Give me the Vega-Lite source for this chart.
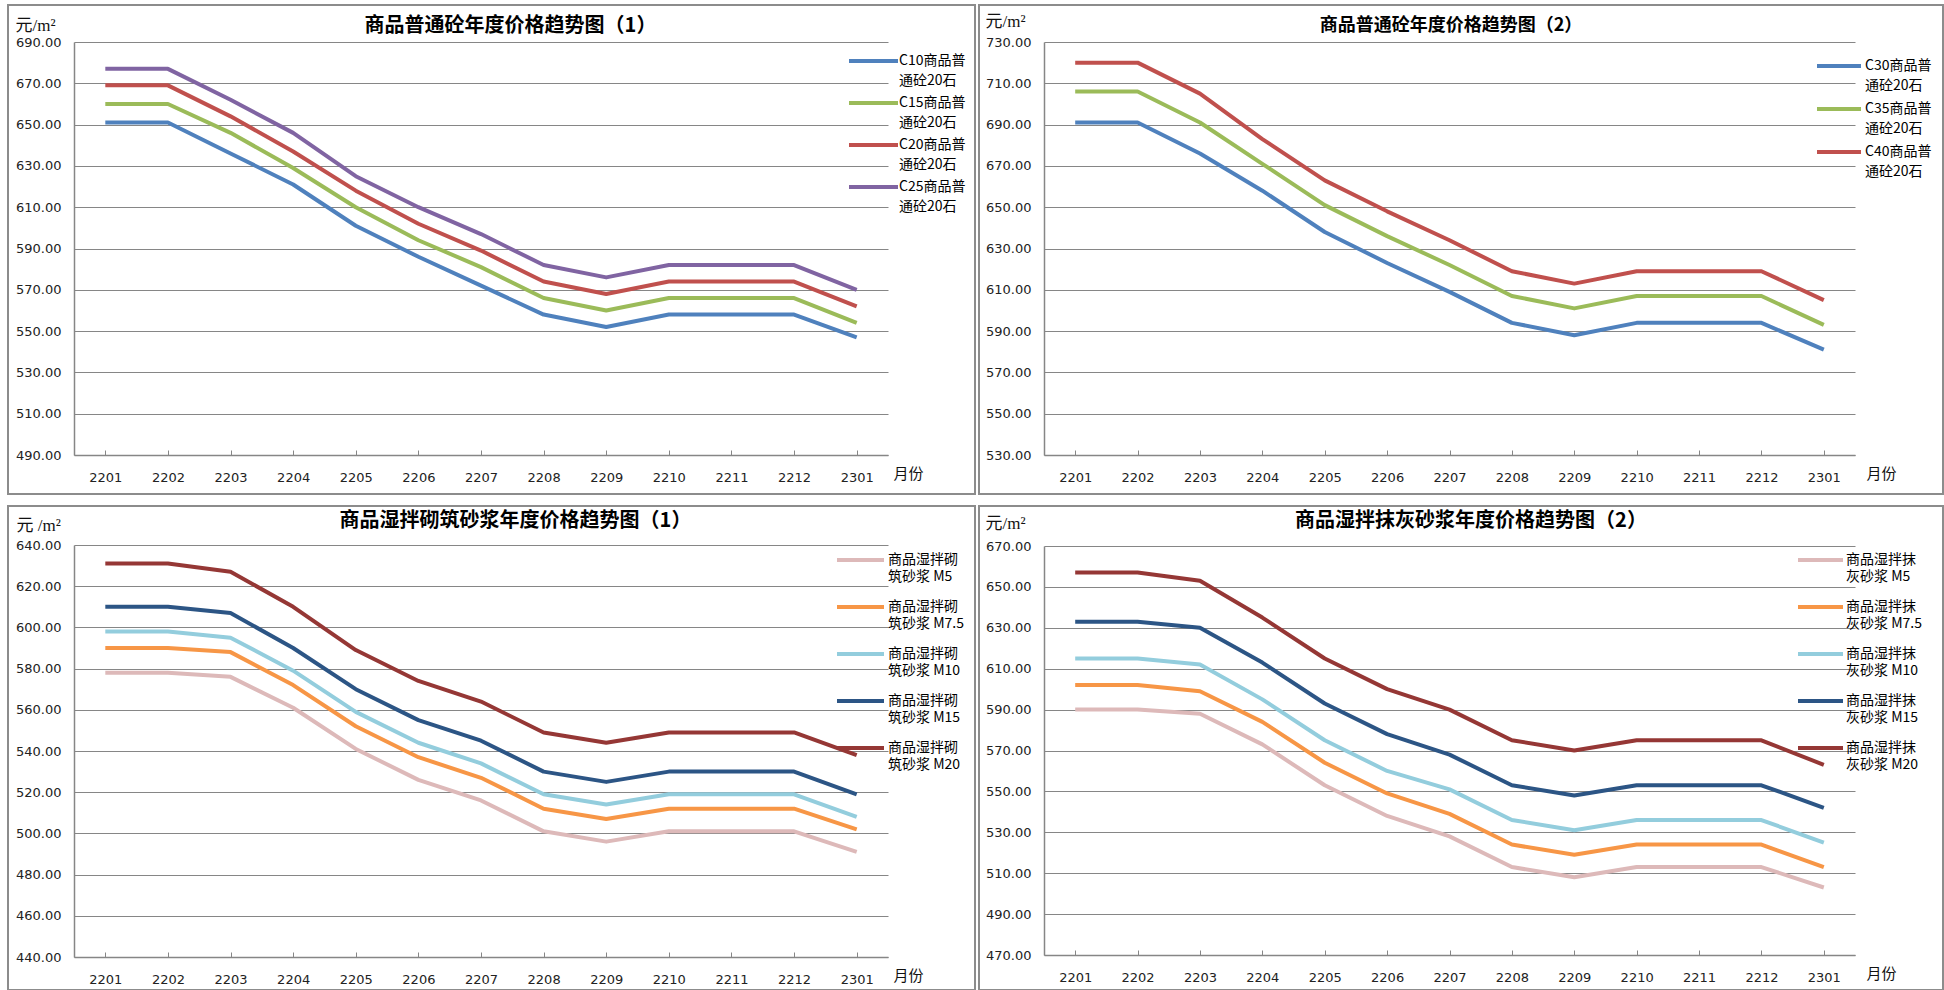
{
"$schema":"https://vega.github.io/schema/vega-lite/v6.json",
"background":"white",
"padding":{"left":7,"top":4,"right":0,"bottom":0},
"resolve":{"scale":{"color":"independent"},"legend":{"color":"independent"}},
"datasets":{
"p1":[
{"m":"2201","s":"C10商品普通砼20石","v":651},{"m":"2202","s":"C10商品普通砼20石","v":651},{"m":"2203","s":"C10商品普通砼20石","v":636},{"m":"2204","s":"C10商品普通砼20石","v":621},{"m":"2205","s":"C10商品普通砼20石","v":601},{"m":"2206","s":"C10商品普通砼20石","v":586},{"m":"2207","s":"C10商品普通砼20石","v":572},{"m":"2208","s":"C10商品普通砼20石","v":558},{"m":"2209","s":"C10商品普通砼20石","v":552},{"m":"2210","s":"C10商品普通砼20石","v":558},{"m":"2211","s":"C10商品普通砼20石","v":558},{"m":"2212","s":"C10商品普通砼20石","v":558},{"m":"2301","s":"C10商品普通砼20石","v":547},
{"m":"2201","s":"C15商品普通砼20石","v":660},{"m":"2202","s":"C15商品普通砼20石","v":660},{"m":"2203","s":"C15商品普通砼20石","v":646},{"m":"2204","s":"C15商品普通砼20石","v":629},{"m":"2205","s":"C15商品普通砼20石","v":610},{"m":"2206","s":"C15商品普通砼20石","v":594},{"m":"2207","s":"C15商品普通砼20石","v":581},{"m":"2208","s":"C15商品普通砼20石","v":566},{"m":"2209","s":"C15商品普通砼20石","v":560},{"m":"2210","s":"C15商品普通砼20石","v":566},{"m":"2211","s":"C15商品普通砼20石","v":566},{"m":"2212","s":"C15商品普通砼20石","v":566},{"m":"2301","s":"C15商品普通砼20石","v":554},
{"m":"2201","s":"C20商品普通砼20石","v":669},{"m":"2202","s":"C20商品普通砼20石","v":669},{"m":"2203","s":"C20商品普通砼20石","v":654},{"m":"2204","s":"C20商品普通砼20石","v":637},{"m":"2205","s":"C20商品普通砼20石","v":618},{"m":"2206","s":"C20商品普通砼20石","v":602},{"m":"2207","s":"C20商品普通砼20石","v":589},{"m":"2208","s":"C20商品普通砼20石","v":574},{"m":"2209","s":"C20商品普通砼20石","v":568},{"m":"2210","s":"C20商品普通砼20石","v":574},{"m":"2211","s":"C20商品普通砼20石","v":574},{"m":"2212","s":"C20商品普通砼20石","v":574},{"m":"2301","s":"C20商品普通砼20石","v":562},
{"m":"2201","s":"C25商品普通砼20石","v":677},{"m":"2202","s":"C25商品普通砼20石","v":677},{"m":"2203","s":"C25商品普通砼20石","v":662},{"m":"2204","s":"C25商品普通砼20石","v":646},{"m":"2205","s":"C25商品普通砼20石","v":625},{"m":"2206","s":"C25商品普通砼20石","v":610},{"m":"2207","s":"C25商品普通砼20石","v":597},{"m":"2208","s":"C25商品普通砼20石","v":582},{"m":"2209","s":"C25商品普通砼20石","v":576},{"m":"2210","s":"C25商品普通砼20石","v":582},{"m":"2211","s":"C25商品普通砼20石","v":582},{"m":"2212","s":"C25商品普通砼20石","v":582},{"m":"2301","s":"C25商品普通砼20石","v":570}
],
"p2":[
{"m":"2201","s":"C30商品普通砼20石","v":691},{"m":"2202","s":"C30商品普通砼20石","v":691},{"m":"2203","s":"C30商品普通砼20石","v":676},{"m":"2204","s":"C30商品普通砼20石","v":658},{"m":"2205","s":"C30商品普通砼20石","v":638},{"m":"2206","s":"C30商品普通砼20石","v":623},{"m":"2207","s":"C30商品普通砼20石","v":609},{"m":"2208","s":"C30商品普通砼20石","v":594},{"m":"2209","s":"C30商品普通砼20石","v":588},{"m":"2210","s":"C30商品普通砼20石","v":594},{"m":"2211","s":"C30商品普通砼20石","v":594},{"m":"2212","s":"C30商品普通砼20石","v":594},{"m":"2301","s":"C30商品普通砼20石","v":581},
{"m":"2201","s":"C35商品普通砼20石","v":706},{"m":"2202","s":"C35商品普通砼20石","v":706},{"m":"2203","s":"C35商品普通砼20石","v":691},{"m":"2204","s":"C35商品普通砼20石","v":671},{"m":"2205","s":"C35商品普通砼20石","v":651},{"m":"2206","s":"C35商品普通砼20石","v":636},{"m":"2207","s":"C35商品普通砼20石","v":622},{"m":"2208","s":"C35商品普通砼20石","v":607},{"m":"2209","s":"C35商品普通砼20石","v":601},{"m":"2210","s":"C35商品普通砼20石","v":607},{"m":"2211","s":"C35商品普通砼20石","v":607},{"m":"2212","s":"C35商品普通砼20石","v":607},{"m":"2301","s":"C35商品普通砼20石","v":593},
{"m":"2201","s":"C40商品普通砼20石","v":720},{"m":"2202","s":"C40商品普通砼20石","v":720},{"m":"2203","s":"C40商品普通砼20石","v":705},{"m":"2204","s":"C40商品普通砼20石","v":683},{"m":"2205","s":"C40商品普通砼20石","v":663},{"m":"2206","s":"C40商品普通砼20石","v":648},{"m":"2207","s":"C40商品普通砼20石","v":634},{"m":"2208","s":"C40商品普通砼20石","v":619},{"m":"2209","s":"C40商品普通砼20石","v":613},{"m":"2210","s":"C40商品普通砼20石","v":619},{"m":"2211","s":"C40商品普通砼20石","v":619},{"m":"2212","s":"C40商品普通砼20石","v":619},{"m":"2301","s":"C40商品普通砼20石","v":605}
],
"p3":[
{"m":"2201","s":"商品湿拌砌筑砂浆 M5","v":578},{"m":"2202","s":"商品湿拌砌筑砂浆 M5","v":578},{"m":"2203","s":"商品湿拌砌筑砂浆 M5","v":576},{"m":"2204","s":"商品湿拌砌筑砂浆 M5","v":561},{"m":"2205","s":"商品湿拌砌筑砂浆 M5","v":541},{"m":"2206","s":"商品湿拌砌筑砂浆 M5","v":526},{"m":"2207","s":"商品湿拌砌筑砂浆 M5","v":516},{"m":"2208","s":"商品湿拌砌筑砂浆 M5","v":501},{"m":"2209","s":"商品湿拌砌筑砂浆 M5","v":496},{"m":"2210","s":"商品湿拌砌筑砂浆 M5","v":501},{"m":"2211","s":"商品湿拌砌筑砂浆 M5","v":501},{"m":"2212","s":"商品湿拌砌筑砂浆 M5","v":501},{"m":"2301","s":"商品湿拌砌筑砂浆 M5","v":491},
{"m":"2201","s":"商品湿拌砌筑砂浆 M7.5","v":590},{"m":"2202","s":"商品湿拌砌筑砂浆 M7.5","v":590},{"m":"2203","s":"商品湿拌砌筑砂浆 M7.5","v":588},{"m":"2204","s":"商品湿拌砌筑砂浆 M7.5","v":572},{"m":"2205","s":"商品湿拌砌筑砂浆 M7.5","v":552},{"m":"2206","s":"商品湿拌砌筑砂浆 M7.5","v":537},{"m":"2207","s":"商品湿拌砌筑砂浆 M7.5","v":527},{"m":"2208","s":"商品湿拌砌筑砂浆 M7.5","v":512},{"m":"2209","s":"商品湿拌砌筑砂浆 M7.5","v":507},{"m":"2210","s":"商品湿拌砌筑砂浆 M7.5","v":512},{"m":"2211","s":"商品湿拌砌筑砂浆 M7.5","v":512},{"m":"2212","s":"商品湿拌砌筑砂浆 M7.5","v":512},{"m":"2301","s":"商品湿拌砌筑砂浆 M7.5","v":502},
{"m":"2201","s":"商品湿拌砌筑砂浆 M10","v":598},{"m":"2202","s":"商品湿拌砌筑砂浆 M10","v":598},{"m":"2203","s":"商品湿拌砌筑砂浆 M10","v":595},{"m":"2204","s":"商品湿拌砌筑砂浆 M10","v":579},{"m":"2205","s":"商品湿拌砌筑砂浆 M10","v":559},{"m":"2206","s":"商品湿拌砌筑砂浆 M10","v":544},{"m":"2207","s":"商品湿拌砌筑砂浆 M10","v":534},{"m":"2208","s":"商品湿拌砌筑砂浆 M10","v":519},{"m":"2209","s":"商品湿拌砌筑砂浆 M10","v":514},{"m":"2210","s":"商品湿拌砌筑砂浆 M10","v":519},{"m":"2211","s":"商品湿拌砌筑砂浆 M10","v":519},{"m":"2212","s":"商品湿拌砌筑砂浆 M10","v":519},{"m":"2301","s":"商品湿拌砌筑砂浆 M10","v":508},
{"m":"2201","s":"商品湿拌砌筑砂浆 M15","v":610},{"m":"2202","s":"商品湿拌砌筑砂浆 M15","v":610},{"m":"2203","s":"商品湿拌砌筑砂浆 M15","v":607},{"m":"2204","s":"商品湿拌砌筑砂浆 M15","v":590},{"m":"2205","s":"商品湿拌砌筑砂浆 M15","v":570},{"m":"2206","s":"商品湿拌砌筑砂浆 M15","v":555},{"m":"2207","s":"商品湿拌砌筑砂浆 M15","v":545},{"m":"2208","s":"商品湿拌砌筑砂浆 M15","v":530},{"m":"2209","s":"商品湿拌砌筑砂浆 M15","v":525},{"m":"2210","s":"商品湿拌砌筑砂浆 M15","v":530},{"m":"2211","s":"商品湿拌砌筑砂浆 M15","v":530},{"m":"2212","s":"商品湿拌砌筑砂浆 M15","v":530},{"m":"2301","s":"商品湿拌砌筑砂浆 M15","v":519},
{"m":"2201","s":"商品湿拌砌筑砂浆 M20","v":631},{"m":"2202","s":"商品湿拌砌筑砂浆 M20","v":631},{"m":"2203","s":"商品湿拌砌筑砂浆 M20","v":627},{"m":"2204","s":"商品湿拌砌筑砂浆 M20","v":610},{"m":"2205","s":"商品湿拌砌筑砂浆 M20","v":589},{"m":"2206","s":"商品湿拌砌筑砂浆 M20","v":574},{"m":"2207","s":"商品湿拌砌筑砂浆 M20","v":564},{"m":"2208","s":"商品湿拌砌筑砂浆 M20","v":549},{"m":"2209","s":"商品湿拌砌筑砂浆 M20","v":544},{"m":"2210","s":"商品湿拌砌筑砂浆 M20","v":549},{"m":"2211","s":"商品湿拌砌筑砂浆 M20","v":549},{"m":"2212","s":"商品湿拌砌筑砂浆 M20","v":549},{"m":"2301","s":"商品湿拌砌筑砂浆 M20","v":538}
],
"p4":[
{"m":"2201","s":"商品湿拌抹灰砂浆 M5","v":590},{"m":"2202","s":"商品湿拌抹灰砂浆 M5","v":590},{"m":"2203","s":"商品湿拌抹灰砂浆 M5","v":588},{"m":"2204","s":"商品湿拌抹灰砂浆 M5","v":573},{"m":"2205","s":"商品湿拌抹灰砂浆 M5","v":553},{"m":"2206","s":"商品湿拌抹灰砂浆 M5","v":538},{"m":"2207","s":"商品湿拌抹灰砂浆 M5","v":528},{"m":"2208","s":"商品湿拌抹灰砂浆 M5","v":513},{"m":"2209","s":"商品湿拌抹灰砂浆 M5","v":508},{"m":"2210","s":"商品湿拌抹灰砂浆 M5","v":513},{"m":"2211","s":"商品湿拌抹灰砂浆 M5","v":513},{"m":"2212","s":"商品湿拌抹灰砂浆 M5","v":513},{"m":"2301","s":"商品湿拌抹灰砂浆 M5","v":503},
{"m":"2201","s":"商品湿拌抹灰砂浆 M7.5","v":602},{"m":"2202","s":"商品湿拌抹灰砂浆 M7.5","v":602},{"m":"2203","s":"商品湿拌抹灰砂浆 M7.5","v":599},{"m":"2204","s":"商品湿拌抹灰砂浆 M7.5","v":584},{"m":"2205","s":"商品湿拌抹灰砂浆 M7.5","v":564},{"m":"2206","s":"商品湿拌抹灰砂浆 M7.5","v":549},{"m":"2207","s":"商品湿拌抹灰砂浆 M7.5","v":539},{"m":"2208","s":"商品湿拌抹灰砂浆 M7.5","v":524},{"m":"2209","s":"商品湿拌抹灰砂浆 M7.5","v":519},{"m":"2210","s":"商品湿拌抹灰砂浆 M7.5","v":524},{"m":"2211","s":"商品湿拌抹灰砂浆 M7.5","v":524},{"m":"2212","s":"商品湿拌抹灰砂浆 M7.5","v":524},{"m":"2301","s":"商品湿拌抹灰砂浆 M7.5","v":513},
{"m":"2201","s":"商品湿拌抹灰砂浆 M10","v":615},{"m":"2202","s":"商品湿拌抹灰砂浆 M10","v":615},{"m":"2203","s":"商品湿拌抹灰砂浆 M10","v":612},{"m":"2204","s":"商品湿拌抹灰砂浆 M10","v":595},{"m":"2205","s":"商品湿拌抹灰砂浆 M10","v":575},{"m":"2206","s":"商品湿拌抹灰砂浆 M10","v":560},{"m":"2207","s":"商品湿拌抹灰砂浆 M10","v":551},{"m":"2208","s":"商品湿拌抹灰砂浆 M10","v":536},{"m":"2209","s":"商品湿拌抹灰砂浆 M10","v":531},{"m":"2210","s":"商品湿拌抹灰砂浆 M10","v":536},{"m":"2211","s":"商品湿拌抹灰砂浆 M10","v":536},{"m":"2212","s":"商品湿拌抹灰砂浆 M10","v":536},{"m":"2301","s":"商品湿拌抹灰砂浆 M10","v":525},
{"m":"2201","s":"商品湿拌抹灰砂浆 M15","v":633},{"m":"2202","s":"商品湿拌抹灰砂浆 M15","v":633},{"m":"2203","s":"商品湿拌抹灰砂浆 M15","v":630},{"m":"2204","s":"商品湿拌抹灰砂浆 M15","v":613},{"m":"2205","s":"商品湿拌抹灰砂浆 M15","v":593},{"m":"2206","s":"商品湿拌抹灰砂浆 M15","v":578},{"m":"2207","s":"商品湿拌抹灰砂浆 M15","v":568},{"m":"2208","s":"商品湿拌抹灰砂浆 M15","v":553},{"m":"2209","s":"商品湿拌抹灰砂浆 M15","v":548},{"m":"2210","s":"商品湿拌抹灰砂浆 M15","v":553},{"m":"2211","s":"商品湿拌抹灰砂浆 M15","v":553},{"m":"2212","s":"商品湿拌抹灰砂浆 M15","v":553},{"m":"2301","s":"商品湿拌抹灰砂浆 M15","v":542},
{"m":"2201","s":"商品湿拌抹灰砂浆 M20","v":657},{"m":"2202","s":"商品湿拌抹灰砂浆 M20","v":657},{"m":"2203","s":"商品湿拌抹灰砂浆 M20","v":653},{"m":"2204","s":"商品湿拌抹灰砂浆 M20","v":635},{"m":"2205","s":"商品湿拌抹灰砂浆 M20","v":615},{"m":"2206","s":"商品湿拌抹灰砂浆 M20","v":600},{"m":"2207","s":"商品湿拌抹灰砂浆 M20","v":590},{"m":"2208","s":"商品湿拌抹灰砂浆 M20","v":575},{"m":"2209","s":"商品湿拌抹灰砂浆 M20","v":570},{"m":"2210","s":"商品湿拌抹灰砂浆 M20","v":575},{"m":"2211","s":"商品湿拌抹灰砂浆 M20","v":575},{"m":"2212","s":"商品湿拌抹灰砂浆 M20","v":575},{"m":"2301","s":"商品湿拌抹灰砂浆 M20","v":563}
]
},
"vconcat":[
{"resolve":{"scale":{"color":"independent"},"legend":{"color":"independent"}},
 "hconcat":[
{"width":967,"height":489,"data":{"name":"p1"},
 "title":{"text":"商品普通砼年度价格趋势图（1）","anchor":"middle","dx":19,"offset":-31,"fontSize":20},
 "mark":{"type":"line","strokeWidth":4,"strokeJoin":"round"},
 "encoding":{
  "x":{"field":"m","type":"ordinal","scale":{"type":"point","range":[66,880],"padding":0.5},
   "axis":{"title":"月份","titleX":885,"titleY":18,"offset":-39,"labelAngle":0,"tickSize":-5,"labelPadding":21,"grid":false}},
  "y":{"field":"v","type":"quantitative","scale":{"domain":[490,690],"range":[450,37],"nice":false,"zero":false},
   "axis":{"title":"元/m²","titleX":-59,"titleY":20,"offset":-66,"values":[490,510,530,550,570,590,610,630,650,670,690],"format":".2f","grid":true,"ticks":false,"labelPadding":13}},
  "color":{"field":"s","type":"nominal","sort":null,
   "scale":{"domain":["C10商品普通砼20石","C15商品普通砼20石","C20商品普通砼20石","C25商品普通砼20石"],"range":["#4F81BD","#9BBB59","#C0504D","#8064A2"]},
   "legend":{"orient":"none","legendX":839,"legendY":44,"rowPadding":3,"labelOffset":28,"symbolType":"M-1,0H3.9","labelExpr":"[substring(datum.label,0,6),substring(datum.label,6)]",
    "encode":{"labels":{"update":{"lineHeight":{"value":20}}}}}}
 }},
{"width":964,"height":489,"data":{"name":"p2"},
 "title":{"text":"商品普通砼年度价格趋势图（2）","anchor":"middle","dx":-10,"offset":-30,"fontSize":18},
 "mark":{"type":"line","strokeWidth":4,"strokeJoin":"round"},
 "encoding":{
  "x":{"field":"m","type":"ordinal","scale":{"type":"point","range":[65,876],"padding":0.5},
   "axis":{"title":"月份","titleX":887,"titleY":18,"offset":-39,"labelAngle":0,"tickSize":-5,"labelPadding":21,"grid":false}},
  "y":{"field":"v","type":"quantitative","scale":{"domain":[530,730],"range":[450,37],"nice":false,"zero":false},
   "axis":{"title":"元/m²","titleX":-59,"titleY":16,"offset":-65,"values":[530,550,570,590,610,630,650,670,690,710,730],"format":".2f","grid":true,"ticks":false,"labelPadding":13}},
  "color":{"field":"s","type":"nominal","sort":null,
   "scale":{"domain":["C30商品普通砼20石","C35商品普通砼20石","C40商品普通砼20石"],"range":["#4F81BD","#9BBB59","#C0504D"]},
   "legend":{"orient":"none","legendX":836,"legendY":49,"rowPadding":4,"labelOffset":26,"symbolType":"M-1,0H3.4","labelExpr":"[substring(datum.label,0,6),substring(datum.label,6)]",
    "encode":{"labels":{"update":{"lineHeight":{"value":20}}}}}}
 }}
],"spacing":2},
{"resolve":{"scale":{"color":"independent"},"legend":{"color":"independent"}},
 "hconcat":[
{"width":967,"height":484,"data":{"name":"p3"},
 "title":{"text":"商品湿拌砌筑砂浆年度价格趋势图（1）","anchor":"middle","dx":24,"offset":-25,"fontSize":20},
 "mark":{"type":"line","strokeWidth":4,"strokeJoin":"round"},
 "encoding":{
  "x":{"field":"m","type":"ordinal","scale":{"type":"point","range":[66,880],"padding":0.5},
   "axis":{"title":"月份","titleX":885,"titleY":18,"offset":-33,"labelAngle":0,"tickSize":-5,"labelPadding":21,"grid":false}},
  "y":{"field":"v","type":"quantitative","scale":{"domain":[440,640],"range":[451,39],"nice":false,"zero":false},
   "axis":{"title":"元 /m²","titleX":-58,"titleY":19,"offset":-66,"values":[440,460,480,500,520,540,560,580,600,620,640],"format":".2f","grid":true,"ticks":false,"labelPadding":13}},
  "color":{"field":"s","type":"nominal","sort":null,
   "scale":{"domain":["商品湿拌砌筑砂浆 M5","商品湿拌砌筑砂浆 M7.5","商品湿拌砌筑砂浆 M10","商品湿拌砌筑砂浆 M15","商品湿拌砌筑砂浆 M20"],"range":["#DDB9B9","#F79646","#93CDDD","#2C5585","#953735"]},
   "legend":{"orient":"none","legendX":827,"legendY":42,"rowPadding":11,"labelOffset":29,"symbolType":"M-1,0H3.7","labelExpr":"[substring(datum.label,0,5),substring(datum.label,5)]",
    "encode":{"labels":{"update":{"lineHeight":{"value":17}}}}}}
 }},
{"width":964,"height":484,"data":{"name":"p4"},
 "title":{"text":"商品湿拌抹灰砂浆年度价格趋势图（2）","anchor":"middle","dx":10,"offset":-25,"fontSize":20},
 "mark":{"type":"line","strokeWidth":4,"strokeJoin":"round"},
 "encoding":{
  "x":{"field":"m","type":"ordinal","scale":{"type":"point","range":[65,876],"padding":0.5},
   "axis":{"title":"月份","titleX":887,"titleY":18,"offset":-35,"labelAngle":0,"tickSize":-5,"labelPadding":21,"grid":false}},
  "y":{"field":"v","type":"quantitative","scale":{"domain":[470,670],"range":[449,40],"nice":false,"zero":false},
   "axis":{"title":"元/m²","titleX":-59,"titleY":17,"offset":-65,"values":[470,490,510,530,550,570,590,610,630,650,670],"format":".2f","grid":true,"ticks":false,"labelPadding":13}},
  "color":{"field":"s","type":"nominal","sort":null,
   "scale":{"domain":["商品湿拌抹灰砂浆 M5","商品湿拌抹灰砂浆 M7.5","商品湿拌抹灰砂浆 M10","商品湿拌抹灰砂浆 M15","商品湿拌抹灰砂浆 M20"],"range":["#DDB9B9","#F79646","#93CDDD","#2C5585","#953735"]},
   "legend":{"orient":"none","legendX":817,"legendY":42,"rowPadding":11,"labelOffset":26,"symbolType":"M-1,0H3.5","labelExpr":"[substring(datum.label,0,5),substring(datum.label,5)]",
    "encode":{"labels":{"update":{"lineHeight":{"value":17}}}}}}
 }}
],"spacing":2}
],
"spacing":10,
"config":{
 "view":{"stroke":"#8C8C8C","strokeWidth":2},
 "font":"Noto Sans CJK SC",
 "axis":{"domainColor":"#868686","domainWidth":1.5,"gridColor":"#868686","gridWidth":1,"tickColor":"#868686","tickWidth":1,"labelColor":"#222222","labelFont":"DejaVu Sans","labelFontSize":13,
  "titleAngle":0,"titleAlign":"left","titleBaseline":"middle","titleFontWeight":"normal","titleColor":"#111111","titleFontSize":14},
 "axisY":{"titleFont":"Liberation Serif, Noto Sans CJK SC","titleFontSize":17},
 "axisX":{"titleFont":"Noto Sans CJK SC","titleFontSize":15},
 "legend":{"title":null,"padding":0,"symbolSize":400,"symbolStrokeWidth":4,"labelFont":"Noto Sans CJK SC","labelFontSize":14,"labelColor":"#000000","labelBaseline":"middle","labelLimit":200},
 "title":{"font":"Noto Sans CJK SC","fontSize":18,"fontWeight":"bold","color":"#000000"}
}
}
